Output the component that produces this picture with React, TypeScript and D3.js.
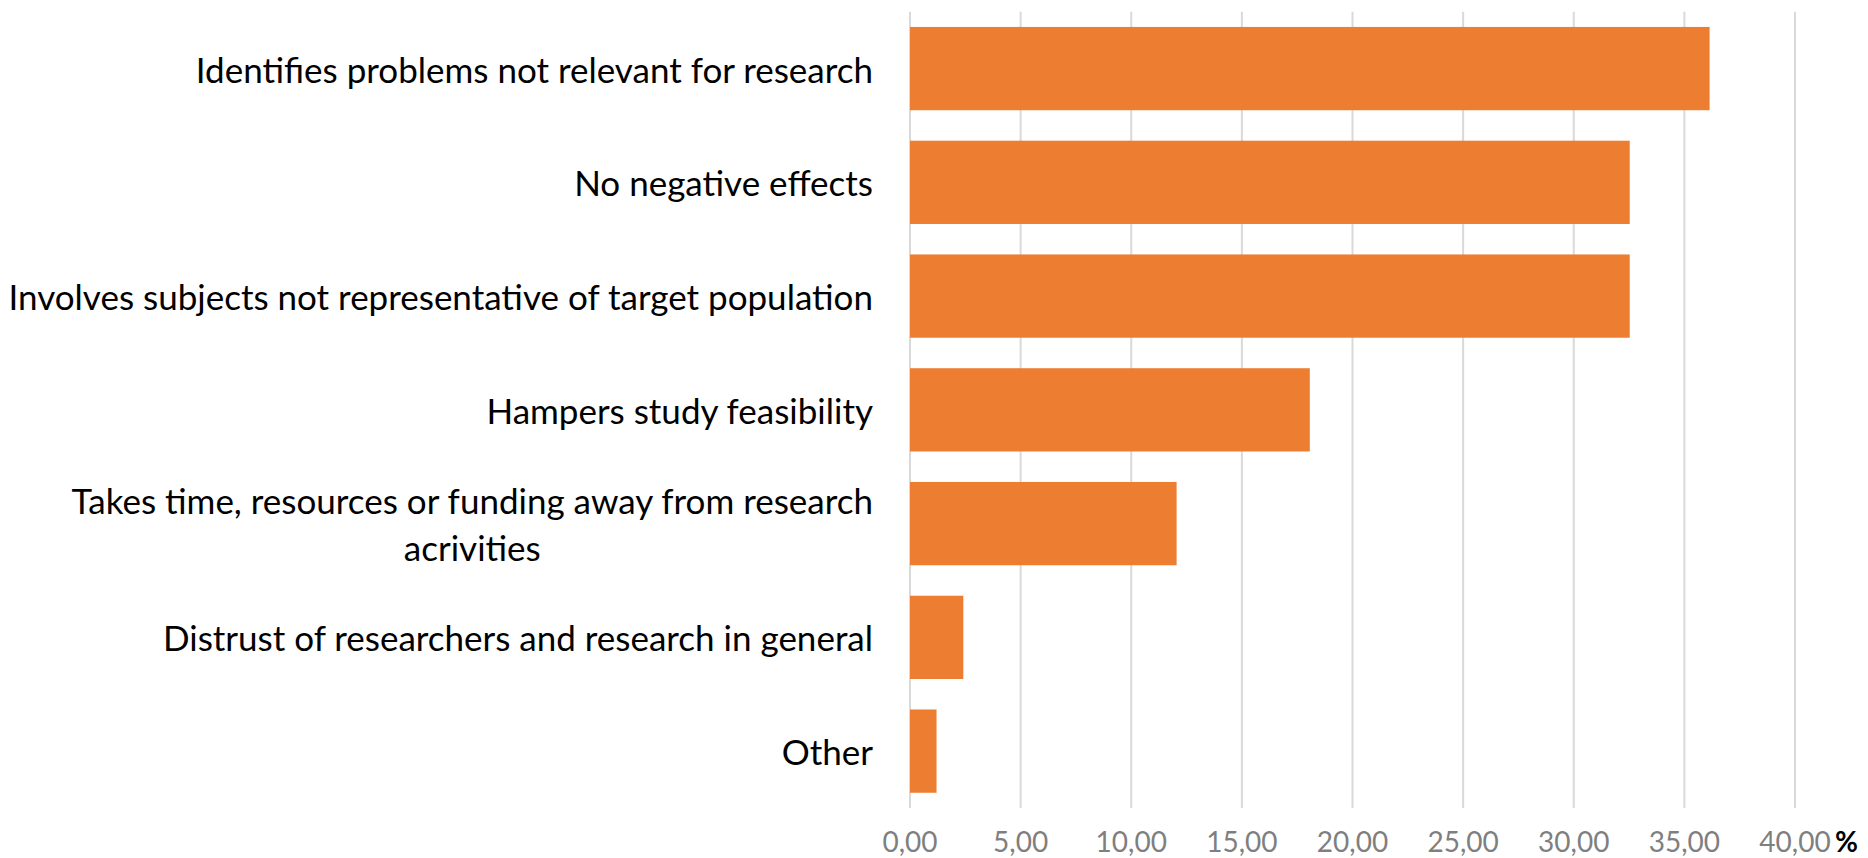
import React from "react";
import * as d3 from "d3";

const categories: string[][] = [
  ["Identifies problems not relevant for research"],
  ["No negative effects"],
  ["Involves subjects not representative of target population"],
  ["Hampers study feasibility"],
  ["Takes time, resources or funding away from research", "acrivities"],
  ["Distrust of researchers and research in general"],
  ["Other"],
];
const values: number[] = [36.14, 32.53, 32.53, 18.07, 12.05, 2.41, 1.2];
const xTicks: number[] = [0, 5, 10, 15, 20, 25, 30, 35, 40];
const unitLabel = "%";

const W = 1868;
const H = 858;
const FONT = "Lato, 'Open Sans', sans-serif";

export default function App() {
  const x = d3.scaleLinear().domain([0, 40]).range([910, 1795]);
  const y = d3
    .scaleBand<number>()
    .domain(d3.range(categories.length))
    .range([11.7, 808])
    .paddingInner(0.268)
    .paddingOuter(0.134);
  const fmt = (v: number) => d3.format(".2f")(v).replace(".", ",");
  const labelRight = 873;
  const catSize = 35;
  const lineH = 46.5;

  return (
    <svg
      width={W}
      height={H}
      style={{ position: "absolute", left: 0, top: 0, background: "#fff" }}
    >
      <rect width={W} height={H} fill="#fff" />
      {xTicks.map((t) => (
        <line
          key={"g" + t}
          x1={x(t)}
          x2={x(t)}
          y1={11.7}
          y2={808}
          stroke="#d9d9d9"
          strokeWidth={2}
        />
      ))}
      {values.map((v, i) => (
        <rect
          key={"b" + i}
          x={x(0)}
          y={y(i)!}
          width={x(v) - x(0)}
          height={y.bandwidth()}
          fill="#ED7D31"
        />
      ))}
      {categories.map((lines, i) => {
        const cy = y(i)! + y.bandwidth() / 2;
        const n = lines.length;
        return (
          <g key={"c" + i}>
            {n === 1 ? (
              <text
                x={labelRight}
                y={cy}
                textAnchor="end"
                dominantBaseline="central"
                fontFamily={FONT}
                fontSize={catSize}
                fill="#000"
              >
                {lines[0]}
              </text>
            ) : (
              <MultiLine
                lines={lines}
                right={labelRight}
                cy={cy}
                lineH={lineH}
                size={catSize}
              />
            )}
          </g>
        );
      })}
      {xTicks.map((t) => (
        <text
          key={"t" + t}
          x={x(t)}
          y={841}
          textAnchor="middle"
          dominantBaseline="central"
          fontFamily={FONT}
          fontSize={28}
          fill="#7f7f7f"
        >
          {fmt(t)}
        </text>
      ))}
      <text
        x={1835}
        y={841}
        dominantBaseline="central"
        fontFamily={FONT}
        fontWeight="bold"
        fontSize={28}
        fill="#000"
      >
        {unitLabel}
      </text>
    </svg>
  );
}

function MultiLine({
  lines,
  right,
  cy,
  lineH,
  size,
}: {
  lines: string[];
  right: number;
  cy: number;
  lineH: number;
  size: number;
}) {
  const ref = React.useRef<SVGGElement>(null);
  React.useEffect(() => {
    const g = ref.current;
    if (!g) return;
    const texts = Array.from(g.querySelectorAll("text")) as SVGTextElement[];
    const maxW = d3.max(texts, (t) => t.getComputedTextLength()) || 0;
    const cx = right - maxW / 2;
    texts.forEach((t) => t.setAttribute("x", String(cx)));
  }, [lines, right]);
  const top = cy - ((lines.length - 1) * lineH) / 2;
  return (
    <g ref={ref}>
      {lines.map((l, k) => (
        <text
          key={k}
          x={right}
          y={top + k * lineH}
          textAnchor="middle"
          dominantBaseline="central"
          fontFamily={FONT}
          fontSize={size}
          fill="#000"
        >
          {l}
        </text>
      ))}
    </g>
  );
}
